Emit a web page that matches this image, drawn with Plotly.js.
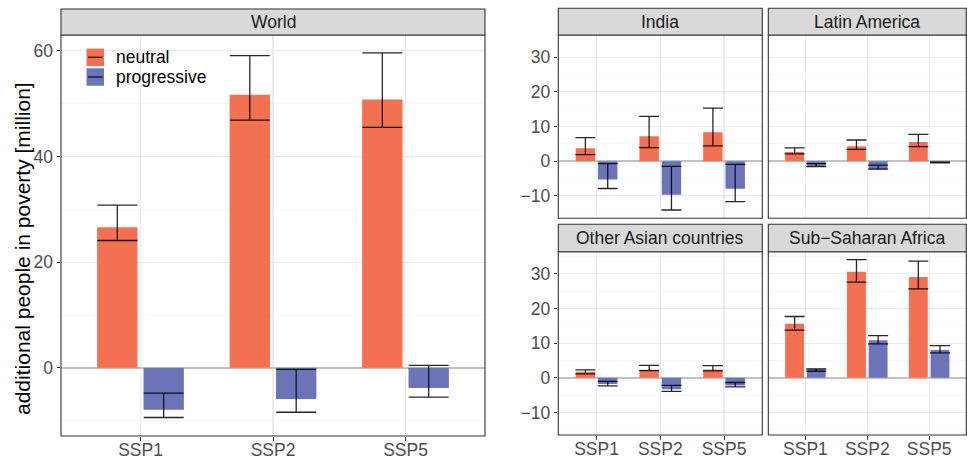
<!DOCTYPE html>
<html>
<head>
<meta charset="utf-8">
<script src="https://cdn.plot.ly/plotly-3.0.1.min.js"></script>
<style>html,body{margin:0;padding:0;background:#fff;}#chart{width:967px;height:458px;}</style>
</head>
<body>
<div id="chart"></div>
<script>
// ---- data ----
const scenarios = ['SSP1', 'SSP2', 'SSP5'];
const regions = ['World', 'India', 'Latin America', 'Other Asian countries', 'Sub\u2212Saharan Africa'];
const seriesNames = ['neutral', 'progressive'];

// rows follow the order of `regions`, columns follow `scenarios`
const neutralMean = [
  [26.6, 51.7, 50.8],
  [3.75, 7.2, 8.3],
  [2.6, 4.3, 5.5],
  [1.75, 2.3, 2.4],
  [15.6, 30.6, 29.1]
];
const neutralHigh = [
  [30.8, 59.1, 59.6],
  [6.8, 12.9, 15.3],
  [3.8, 6.1, 7.7],
  [2.3, 3.6, 3.5],
  [17.7, 34.1, 33.7]
];
const neutralLow = [
  [24.1, 46.9, 45.5],
  [1.9, 3.9, 4.4],
  [2.1, 3.4, 4.2],
  [1.15, 2.1, 2.0],
  [13.75, 27.6, 25.7]
];
const progressiveMean = [
  [-7.95, -5.9, -3.8],
  [-5.3, -9.7, -8.0],
  [-1.5, -2.4, -0.4],
  [-1.8, -3.3, -2.2],
  [2.6, 10.85, 8.0]
];
const progressiveHigh = [
  [-4.8, -0.3, 0.45],
  [-0.7, -1.5, -0.95],
  [-0.7, -1.15, -0.3],
  [-1.05, -2.2, -1.35],
  [2.6, 12.2, 9.3]
];
const progressiveLow = [
  [-9.4, -8.4, -5.55],
  [-7.9, -14.1, -11.7],
  [-1.6, -2.3, -0.5],
  [-2.3, -3.9, -2.6],
  [1.9, 9.8, 7.2]
];
const worldTicks = [0, 20, 40, 60];
const regionTicks = [-10, 0, 10, 20, 30];

// ---- styling / layout ----
const W = 967, H = 458;
const colors = ['#F37053', '#6B74B7'];
const FONT = 'Liberation Sans, Arial, Helvetica, sans-serif';
const px2x = v => v / W;
const px2y = v => (H - v) / H;

// panel boxes in pixels: [left, right, top, bottom, stripTop]
const panels = [
  [61, 485, 35, 436, 9],
  [558.3, 762.3, 35, 218.3, 8.3],
  [768.3, 966.3, 35, 218.3, 8.3],
  [558.3, 762.3, 251.7, 435, 224.3],
  [768.3, 966.3, 251.7, 435, 224.3]
];
const showX = [true, false, false, true, true];
const showY = [true, true, false, true, false];

const traces = [];
const means = [neutralMean, progressiveMean];
const highs = [neutralHigh, progressiveHigh];
const lows = [neutralLow, progressiveLow];

regions.forEach((reg, r) => {
  const ax = r === 0 ? '' : String(r + 1);
  for (let s = 0; s < 2; s++) {
    const m = means[s][r];
    traces.push({
      type: 'bar',
      name: seriesNames[s],
      x: scenarios,
      y: m,
      xaxis: 'x' + ax,
      yaxis: 'y' + ax,
      marker: { color: colors[s], line: { width: 0 } },
      showlegend: false,
      error_y: {
        type: 'data',
        symmetric: false,
        array: m.map((v, i) => highs[s][r][i] - v),
        arrayminus: m.map((v, i) => v - lows[s][r][i]),
        color: 'rgba(0,0,0,0.85)',
        thickness: 1.3,
        width: r === 0 ? 20 : 10
      }
    });
  }
});

const layout = {
  width: W, height: H,
  margin: { l: 0, r: 0, t: 0, b: 0 },
  paper_bgcolor: '#ffffff',
  plot_bgcolor: '#ffffff',
  font: { family: FONT, size: 17.5, color: '#4d4d4d' },
  barmode: 'group',
  bargap: 0.3,
  bargroupgap: 0.13,
  showlegend: false,
  hovermode: false,
  shapes: [],
  annotations: []
};

panels.forEach((p, r) => {
  const ax = r === 0 ? '' : String(r + 1);
  layout['xaxis' + ax] = {
    domain: [px2x(p[0]), px2x(p[1])],
    anchor: 'y' + ax,
    type: 'category',
    range: [-0.6, 2.6],
    fixedrange: true,
    showgrid: true, gridcolor: '#ebebeb', gridwidth: 1.1,
    showline: false, zeroline: false,
    ticks: showX[r] ? 'outside' : '', ticklen: 3.5, tickcolor: '#333333', tickwidth: 1,
    showticklabels: showX[r],
    ticklabelstandoff: -6,
    tickfont: { family: FONT, size: 17.5, color: '#4d4d4d' }
  };
  const isWorld = r === 0;
  layout['yaxis' + ax] = {
    domain: [px2y(p[3]), px2y(p[2])],
    anchor: 'x' + ax,
    range: isWorld ? [-12.9, 63.0] : [-16.5, 36.4],
    fixedrange: true,
    tickmode: 'array',
    tickvals: isWorld ? worldTicks : regionTicks,
    showgrid: true, gridcolor: '#ebebeb', gridwidth: 1.1,
    minor: { dtick: isWorld ? 10 : 5, tick0: 0, showgrid: true, gridcolor: '#f0f0f0', gridwidth: 0.6, ticks: '' },
    zeroline: true, zerolinecolor: '#c2c2c2', zerolinewidth: 1.7,
    showline: false,
    ticks: showY[r] ? 'outside' : '', ticklen: 3.5, tickcolor: '#333333', tickwidth: 1,
    showticklabels: showY[r],
    tickfont: { family: FONT, size: 17.5, color: '#4d4d4d' }
  };
  // panel border
  layout.shapes.push({
    type: 'rect', xref: 'paper', yref: 'paper', layer: 'above',
    x0: px2x(p[0]), x1: px2x(p[1]), y0: px2y(p[3]), y1: px2y(p[2]),
    line: { color: '#333333', width: 1.1 }, fillcolor: 'rgba(0,0,0,0)'
  });
  // strip
  layout.shapes.push({
    type: 'rect', xref: 'paper', yref: 'paper', layer: 'above',
    x0: px2x(p[0]), x1: px2x(p[1]), y0: px2y(p[2]), y1: px2y(p[4]),
    line: { color: '#333333', width: 1.1 }, fillcolor: '#d9d9d9'
  });
  layout.annotations.push({
    xref: 'paper', yref: 'paper',
    x: px2x((p[0] + p[1]) / 2), y: px2y((p[2] + p[4]) / 2),
    xanchor: 'center', yanchor: 'middle', showarrow: false,
    text: regions[r],
    font: { family: FONT, size: 17.5, color: '#1a1a1a' }
  });
});

// y axis title
layout.annotations.push({
  xref: 'paper', yref: 'paper',
  x: px2x(22), y: px2y(249),
  xanchor: 'center', yanchor: 'middle', showarrow: false,
  textangle: -90,
  text: 'additional people in poverty [million]',
  font: { family: FONT, size: 21, color: '#000000' }
});

// legend (custom, ggplot-style keys)
const legendRows = [57.3, 77];
seriesNames.forEach((nm, s) => {
  const cy = legendRows[s];
  layout.shapes.push({
    type: 'rect', xref: 'paper', yref: 'paper', layer: 'above',
    x0: px2x(86.5), x1: px2x(104), y0: px2y(cy + 8.7), y1: px2y(cy - 8.7),
    line: { width: 0 }, fillcolor: colors[s]
  });
  layout.shapes.push({
    type: 'line', xref: 'paper', yref: 'paper', layer: 'above',
    x0: px2x(88), x1: px2x(102.5), y0: px2y(cy), y1: px2y(cy),
    line: { color: 'rgba(0,0,0,0.85)', width: 1.3 }
  });
  layout.annotations.push({
    xref: 'paper', yref: 'paper',
    x: px2x(114), y: px2y(cy),
    xanchor: 'left', yanchor: 'middle', showarrow: false,
    text: nm,
    font: { family: FONT, size: 17.5, color: '#000000' }
  });
});

Plotly.newPlot('chart', traces, layout, { staticPlot: true, displayModeBar: false });
</script>
</body>
</html>
